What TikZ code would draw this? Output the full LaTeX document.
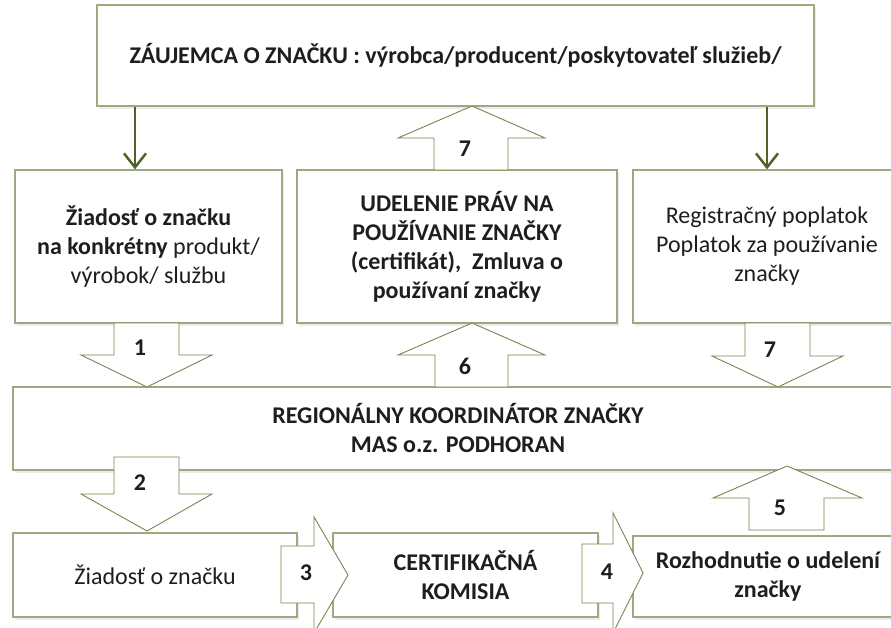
\documentclass[tikz,border=0pt]{standalone}
\usepackage{fontspec}
\setmainfont{Carlito}
\usetikzlibrary{arrows.meta,shadows}
\definecolor{ramik}{RGB}{160,168,130}
\definecolor{sipka}{RGB}{120,134,80}
\definecolor{zelen}{RGB}{79,98,40}
\definecolor{pismo}{RGB}{30,30,30}

\begin{document}
\begin{tikzpicture}[x=1pt,y=-1pt,
    box/.style={draw=ramik, line width=1.2pt, fill=white, align=center, inner sep=0pt,
      text=pismo, font=\fontsize{24}{29}\selectfont,
      drop shadow={shadow xshift=2pt, shadow yshift=-3pt, opacity=0.15}},
    boxb/.style={box, font=\fontsize{24}{29}\selectfont\bfseries},
    blok/.style={draw=sipka, line width=0.9pt, fill=white},
    cislo/.style={text=pismo, font=\fontsize{24}{29}\selectfont\bfseries},
    zelena/.style={draw=zelen, line width=2.5pt, -{Straight Barb[length=14pt,width=22pt]}}]
    \useasboundingbox (0,0) rectangle (891,628);

    % boxes
    \node[boxb, minimum width=717pt, minimum height=101pt] (top) at (455.5,55.5) {ZÁUJEMCA O ZNAČKU : výrobca/producent/poskytovateľ služieb/};
    \node[box, minimum width=267pt, minimum height=153pt] (zad) at (148.5,246.5) {\textbf{Žiadosť o značku}\\\textbf{na konkrétny} produkt/\\výrobok/ službu};
    \node[boxb, minimum width=320pt, minimum height=153pt] (udel) at (457,246.5) {UDELENIE PRÁV NA\\POUŽÍVANIE ZNAČKY\\(certifikát),~ Zmluva o\\používaní značky};
    \node[box, minimum width=268pt, minimum height=153pt] (popl) at (767,246.5) {Registračný poplatok\\Poplatok za používanie\\značky};
    \node[boxb, minimum width=890pt, minimum height=83pt] (reg) at (458,428.5) {REGIONÁLNY KOORDINÁTOR ZNAČKY\\MAS o.z. PODHORAN};
    \node[box, minimum width=284pt, minimum height=84pt] (ziad) at (155,575) {Žiadosť o značku};
    \node[boxb, minimum width=265pt, minimum height=84pt] (kom) at (465.5,575) {CERTIFIKAČNÁ\\KOMISIA};
    \node[boxb, minimum width=270pt, minimum height=81pt] (rozh) at (768,576.5) {Rozhodnutie o udelení\\značky};

    % green arrows
    \draw[zelena] (135,0 |- top.south) -- (135,0 |- zad.north);
    \draw[zelena] (popl.north |- top.south) -- (popl.north);

    % block arrows
    \draw[blok] (434,170) -- (434,138) -- (398,138) -- (472,106) -- (545,138) -- (508,138) -- (508,170) -- cycle;
    \draw[blok] (114,323) -- (179,323) -- (179,355) -- (212,355) -- (147,387) -- (81,355) -- (114,355) -- cycle;
    \draw[blok] (435,387) -- (435,355) -- (398,355) -- (472,323) -- (545,355) -- (508,355) -- (508,387) -- cycle;
    \draw[blok] (745,323) -- (810,323) -- (810,356) -- (843,356) -- (778,387) -- (712,356) -- (745,356) -- cycle;
    \draw[blok] (114,457) -- (179,457) -- (179,494) -- (212,494) -- (147,531) -- (81,494) -- (114,494) -- cycle;
    \draw[blok] (749,530) -- (749,498) -- (713,498) -- (787,466) -- (862,498) -- (824,498) -- (824,530) -- cycle;
    \draw[blok] (281,546) -- (314,546) -- (314,517) -- (348,575) -- (314,633) -- (314,603) -- (281,603) -- cycle;
    \draw[blok] (582,544) -- (613,544) -- (613,513) -- (643,573) -- (613,633) -- (613,603) -- (582,603) -- cycle;

    % numbers
    \node[cislo] (c7a) at (465,149) {7};
    \node[cislo] (c1) at (140,348) {1};
    \node[cislo] (c6) at (465,366) {6};
    \node[cislo] (c7b) at (770,350) {7};
    \node[cislo] (c2) at (140,483) {2};
    \node[cislo] (c3) at (306,573) {3};
    \node[cislo] (c4) at (607,572) {4};
    \node[cislo] (c5) at (780,508) {5};
\end{tikzpicture}
\end{document}
